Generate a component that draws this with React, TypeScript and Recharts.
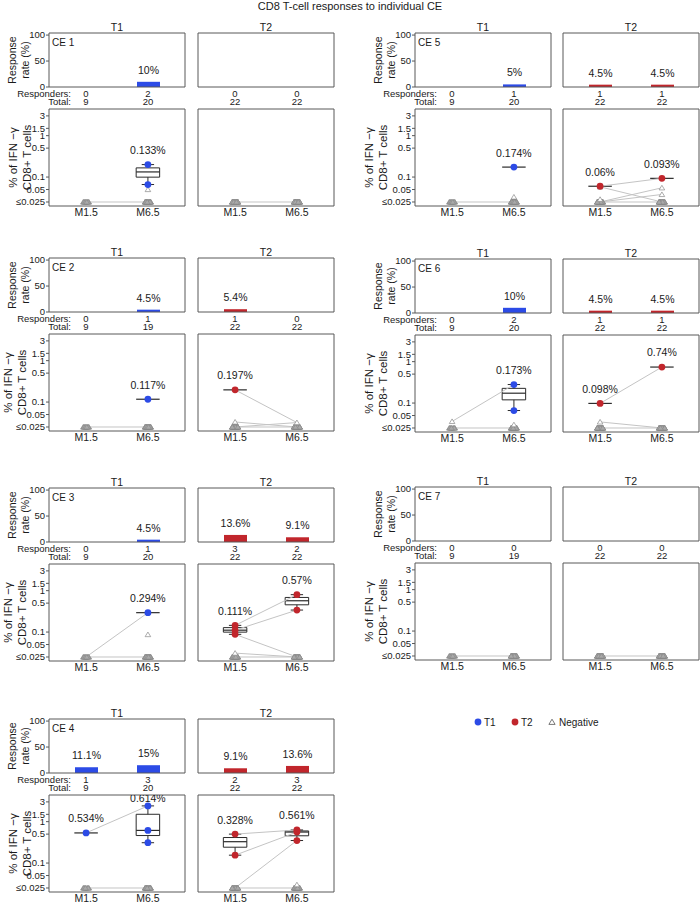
import React from 'react';
import {
  BarChart,
  Bar,
  XAxis,
  YAxis,
  LabelList,
  ScatterChart,
  Scatter,
  ReferenceArea,
  ReferenceLine,
} from 'recharts';

const TIMEPOINTS = ['M1.5', 'M6.5'];
const CE_NAMES = ['CE 1', 'CE 2', 'CE 3', 'CE 4', 'CE 5', 'CE 6', 'CE 7'];
const FLOOR = 0.025;
const LEVEL_TICKS = [0.025, 0.05, 0.1, 0.5, 1, 1.5, 3];

// response rate (%) per CE, [M1.5, M6.5]
const rateT1 = [[0, 10], [0, 4.5], [0, 4.5], [11.1, 15], [0, 5], [0, 10], [0, 0]];
const rateT2 = [[0, 0], [5.4, 0], [13.6, 9.1], [9.1, 13.6], [4.5, 4.5], [4.5, 4.5], [0, 0]];

// responders / total
const respT1 = [[0, 2], [0, 1], [0, 1], [1, 3], [0, 1], [0, 2], [0, 0]];
const respT2 = [[0, 0], [1, 0], [3, 2], [2, 3], [1, 1], [1, 1], [0, 0]];
const totalT1 = [[9, 20], [9, 19], [9, 20], [9, 20], [9, 20], [9, 20], [9, 19]];
const totalT2 = [[22, 22], [22, 22], [22, 22], [22, 22], [22, 22], [22, 22], [22, 22]];

// % IFN-g+ of responders
const posT1 = [
  [[], [0.2, 0.066]],
  [[], [0.117]],
  [[], [0.294]],
  [[0.534], [2.4, 0.614, 0.31]],
  [[], [0.174]],
  [[], [0.28, 0.066]],
  [[], []],
];
const posT2 = [
  [[], []],
  [[0.197], []],
  [[0.145, 0.111, 0.088], [0.8, 0.34]],
  [[0.5, 0.155], [0.63, 0.561, 0.35]],
  [[0.06], [0.093]],
  [[0.098], [0.74]],
  [[], []],
];

// medians printed over the groups
const medT1 = [[null, 0.133], [null, 0.117], [null, 0.294], [0.534, 0.614], [null, 0.174], [null, 0.173], [null, null]];
const medT2 = [[null, null], [0.197, null], [0.111, 0.57], [0.328, 0.561], [0.06, 0.093], [0.098, 0.74], [null, null]];

// negatives sitting above the detection floor
const negT1 = [[[], [0.05]], [[], []], [[], [0.087]], [[], []], [[], [0.033]], [[0.036], [0.03]], [[], []]];
const negT2 = [[[], []], [[0.033], [0.032]], [[0.031], []], [[], [0.03]], [[0.058, 0.029], [0.055, 0.038]], [[0.035], []], [[], []]];

// paired samples, M1.5 -> M6.5
const pairsT1 = [
  [[0.025, 0.025]],
  [[0.025, 0.025]],
  [[0.025, 0.294], [0.025, 0.025]],
  [[0.534, 2.4], [0.025, 0.025]],
  [[0.025, 0.025]],
  [[0.036, 0.28], [0.025, 0.025]],
  [[0.025, 0.025]],
];
const pairsT2 = [
  [[0.025, 0.025]],
  [[0.197, 0.032], [0.033, 0.025], [0.025, 0.032], [0.025, 0.025]],
  [[0.145, 0.8], [0.111, 0.34], [0.088, 0.025], [0.031, 0.025], [0.025, 0.025]],
  [[0.5, 0.63], [0.155, 0.561], [0.025, 0.35], [0.025, 0.025]],
  [[0.06, 0.093], [0.058, 0.025], [0.025, 0.055], [0.025, 0.038], [0.025, 0.025]],
  [[0.098, 0.74], [0.035, 0.025], [0.025, 0.025]],
  [[0.025, 0.025]],
];

// layout
const FONT = '"Liberation Sans", Arial, Helvetica, sans-serif';
const INK = '#1a1a1a';
const FRAME = '#595959';
const BOX = '#2b2b2b';
const LINK = '#c4c4c4';
const T1_COLOR = '#2c4be6';
const T2_COLOR = '#c1262c';
const BOX_W = 136;
const BAR_H = 54;
const LEVEL_H = 97;
const LEVEL_GAP = 76;
const AXIS_W = [49, 58];
const COL_X = [[49, 198], [415, 563]];
const ROW_Y = [[33, 258, 488, 719], [33, 259, 487]];
const PANEL_POS = [[0, 0], [0, 1], [0, 2], [0, 3], [1, 0], [1, 1], [1, 2]];
const TITLE_SHIFT = [0, -5, -5, 0, -10, -10, -10];
const JITTER = [-0.045, 0.045, -0.022, 0.022, 0, -0.034, 0.034, -0.011, 0.011];
const HALF = 0.19;
const CAP = 0.1;

const quantile = (s: number[], q: number) => {
  const p = (s.length - 1) * q;
  const lo = Math.floor(p);
  const hi = Math.ceil(p);
  return s[lo] + (s[hi] - s[lo]) * (p - lo);
};

const sideTitle = (axisW: number, lines: string[], size: number, offs: number[], top: number, h: number, tag?: string) => () => {
  const cy = top + h / 2;
  return (
    <g fill={INK}>
      {lines.map((t, i) => (
        <text
          key={t}
          x={axisW + offs[i]}
          y={cy}
          transform={`rotate(-90 ${axisW + offs[i]} ${cy})`}
          textAnchor="middle"
          dominantBaseline="central"
          fontSize={size}
        >
          {t}
        </text>
      ))}
      {tag ? (
        <text x={axisW + 3} y={top + 13} fontSize={10}>
          {tag}
        </text>
      ) : null}
    </g>
  );
};

function RateChart({ left, top, axisW, name, head, rates, resp, tot, color }: any) {
  const first = axisW > 1;
  const yW = axisW;
  const data = TIMEPOINTS.map((tp, i) => ({ tp, rate: rates[i], label: rates[i] > 0 ? `${rates[i]}%` : '' }));
  const countTick = (p: any) => (
    <g fontSize={9.5} fill={INK}>
      <text x={p.x} y={p.y + 9.5} textAnchor="middle">{resp[p.index]}</text>
      <text x={p.x} y={p.y + 18} textAnchor="middle">{tot[p.index]}</text>
      {first && p.index === 0 ? (
        <>
          <text x={yW + 22} y={p.y + 9.5} textAnchor="end">Responders:</text>
          <text x={yW + 22} y={p.y + 18} textAnchor="end">Total:</text>
        </>
      ) : null}
    </g>
  );
  return (
    <div style={{ position: 'absolute', left: left - yW, top: top - 18 }}>
      <BarChart
        width={yW + BOX_W + 2}
        height={18 + BAR_H + 24}
        data={data}
        margin={{ top: 17, right: 1, bottom: 0, left: 0 }}
      >
        <XAxis
          dataKey="tp"
          height={24}
          padding={{ left: 6, right: 6 }}
          tickLine={false}
          tickSize={0}
          tickMargin={0}
          interval={0}
          tick={countTick}
          axisLine={{ stroke: FRAME }}
        />
        <XAxis
          xAxisId="top"
          dataKey="tp"
          orientation="top"
          height={1}
          padding={{ left: 6, right: 6 }}
          tick={false}
          tickLine={false}
          axisLine={{ stroke: FRAME }}
          label={{ value: head, position: 'top', offset: 1, fontSize: 10.5, fill: INK }}
        />
        <YAxis
          type="number"
          domain={[0, 104]}
          ticks={[0, 50, 100]}
          interval={0}
          width={yW}
          tick={first ? { fontSize: 9.5, fill: INK } : false}
          tickLine={first ? { stroke: FRAME } : false}
          tickSize={3}
          tickMargin={1}
          axisLine={{ stroke: FRAME }}
          label={first ? sideTitle(yW, ['Response', 'rate (%)'], 10.5, [-37, -24], 18, BAR_H, name) : undefined}
        />
        <YAxis
          yAxisId="r"
          orientation="right"
          type="number"
          domain={[0, 1]}
          width={1}
          tick={false}
          tickLine={false}
          axisLine={{ stroke: FRAME }}
        />
        <Bar dataKey="rate" fill={color} barSize={23} isAnimationActive={false}>
          <LabelList dataKey="label" position="top" offset={8} fontSize={10.5} fill={INK} />
        </Bar>
      </BarChart>
    </div>
  );
}

const dotShape = (color: string) => (p: any) => <circle cx={p.cx} cy={p.cy} r={3.4} fill={color} />;
const triShape = (fill: string, w: number) => (p: any) => (
  <path
    d={`M${p.cx} ${p.cy - w * 0.9}L${p.cx + w} ${p.cy + w * 0.75}L${p.cx - w} ${p.cy + w * 0.75}Z`}
    fill={fill}
    stroke="#8a8a8a"
    strokeWidth={0.7}
  />
);
const noShape = () => <g />;
const medianShape = (p: any) => (
  <text x={p.cx} y={p.cy} dy={3.6} textAnchor="middle" fontSize={10.5} fill={INK}>
    {p.payload.text}
  </text>
);

function LevelChart({ left, top, axisW, shift, pos, med, neg, pairs, resp, tot, color }: any) {
  const first = axisW > 1;
  const yW = axisW;
  const floorPts: any[] = [];
  const openPts: any[] = [];
  const dotPts: any[] = [];
  const labelPts: any[] = [];
  const boxes: React.ReactNode[] = [];
  TIMEPOINTS.forEach((_, i) => {
    const c = i + 1;
    const nFloor = tot[i] - resp[i] - neg[i].length;
    for (let k = 0; k < nFloor; k++) floorPts.push({ x: c + JITTER[k % JITTER.length], y: FLOOR });
    neg[i].forEach((v: number) => openPts.push({ x: c, y: v }));
    pos[i].forEach((v: number) => dotPts.push({ x: c, y: v }));
    if (med[i] == null) return;
    const s = [...pos[i]].sort((a: number, b: number) => a - b);
    const lo = s[0];
    const hi = s[s.length - 1];
    if (s.length > 1) {
      const q1 = quantile(s, 0.25);
      const q3 = quantile(s, 0.75);
      boxes.push(
        <ReferenceLine key={`wu${i}`} segment={[{ x: c, y: q3 }, { x: c, y: hi }]} stroke={BOX} />,
        <ReferenceLine key={`wl${i}`} segment={[{ x: c, y: q1 }, { x: c, y: lo }]} stroke={BOX} />,
        <ReferenceLine key={`cu${i}`} segment={[{ x: c - CAP, y: hi }, { x: c + CAP, y: hi }]} stroke={BOX} />,
        <ReferenceLine key={`cl${i}`} segment={[{ x: c - CAP, y: lo }, { x: c + CAP, y: lo }]} stroke={BOX} />,
        <ReferenceArea
          key={`b${i}`}
          x1={c - HALF}
          x2={c + HALF}
          y1={q1}
          y2={q3}
          fill="#ffffff"
          fillOpacity={1}
          stroke={BOX}
          strokeWidth={1}
        />,
      );
    }
    boxes.push(
      <ReferenceLine
        key={`m${i}`}
        segment={[{ x: c - HALF, y: med[i] }, { x: c + HALF, y: med[i] }]}
        stroke={BOX}
        strokeWidth={1.2}
      />,
    );
    labelPts.push({ x: c, y: Math.min(hi * 2.2, 3.6), text: `${med[i]}%` });
  });

  return (
    <div style={{ position: 'absolute', left: left - yW, top: top - 2 }}>
      <ScatterChart width={yW + BOX_W + 2} height={2 + LEVEL_H + 20} margin={{ top: 1, right: 1, bottom: 0, left: 0 }}>
        <XAxis
          type="number"
          dataKey="x"
          domain={[0.4, 2.6]}
          ticks={[1, 2]}
          interval={0}
          allowDataOverflow
          tickFormatter={(v: number) => TIMEPOINTS[v - 1]}
          height={20}
          tickLine={false}
          tickSize={0}
          tickMargin={3}
          tick={{ fontSize: 10.5, fill: INK }}
          axisLine={{ stroke: FRAME }}
        />
        <XAxis
          xAxisId="top"
          orientation="top"
          type="number"
          domain={[0.4, 2.6]}
          height={1}
          tick={false}
          tickLine={false}
          axisLine={{ stroke: FRAME }}
        />
        <YAxis
          type="number"
          dataKey="y"
          scale="log"
          domain={[0.02, 4.4]}
          ticks={LEVEL_TICKS}
          interval={0}
          allowDataOverflow
          width={yW}
          tickFormatter={(v: number) => (v === FLOOR ? '\u22640.025' : String(v))}
          tick={first ? { fontSize: 9.5, fill: INK } : false}
          tickLine={first ? { stroke: FRAME } : false}
          tickSize={3}
          tickMargin={1}
          axisLine={{ stroke: FRAME }}
          label={
            first
              ? sideTitle(yW, ['% of IFN \u2212\u03b3', 'CD8+ T cells'], 11.5, [-36 + shift, -22 + shift], 2, LEVEL_H)
              : undefined
          }
        />
        <YAxis
          yAxisId="r"
          orientation="right"
          type="number"
          domain={[0, 1]}
          width={1}
          tick={false}
          tickLine={false}
          axisLine={{ stroke: FRAME }}
        />
        {pairs.map((p: number[], i: number) => (
          <Scatter
            key={`pair${i}`}
            data={[{ x: 1, y: p[0] }, { x: 2, y: p[1] }]}
            line={{ stroke: LINK, strokeWidth: 1 }}
            lineType="joint"
            shape={noShape}
            isAnimationActive={false}
          />
        ))}
        {boxes}
        <Scatter data={floorPts} shape={triShape('#a9a9a9', 2.8)} isAnimationActive={false} />
        <Scatter data={openPts} shape={triShape('#ffffff', 2.8)} isAnimationActive={false} />
        <Scatter data={dotPts} shape={dotShape(color)} isAnimationActive={false} />
        <Scatter data={labelPts} shape={medianShape} isAnimationActive={false} />
      </ScatterChart>
    </div>
  );
}

function CEPanel({ k }: { k: number }) {
  const [col, row] = PANEL_POS[k];
  const y = ROW_Y[col][row];
  const groups = [
    { head: 'T1', rates: rateT1[k], resp: respT1[k], tot: totalT1[k], pos: posT1[k], med: medT1[k], neg: negT1[k], pairs: pairsT1[k], color: T1_COLOR },
    { head: 'T2', rates: rateT2[k], resp: respT2[k], tot: totalT2[k], pos: posT2[k], med: medT2[k], neg: negT2[k], pairs: pairsT2[k], color: T2_COLOR },
  ];
  return (
    <>
      {groups.map((g, j) => (
        <React.Fragment key={g.head}>
          <RateChart
            left={COL_X[col][j]}
            top={y}
            axisW={j === 0 ? AXIS_W[col] : 1}
            name={CE_NAMES[k]}
            head={g.head}
            rates={g.rates}
            resp={g.resp}
            tot={g.tot}
            color={g.color}
          />
          <LevelChart
            left={COL_X[col][j]}
            top={y + LEVEL_GAP}
            axisW={j === 0 ? AXIS_W[col] : 1}
            shift={TITLE_SHIFT[k]}
            pos={g.pos}
            med={g.med}
            neg={g.neg}
            pairs={g.pairs}
            resp={g.resp}
            tot={g.tot}
            color={g.color}
          />
        </React.Fragment>
      ))}
    </>
  );
}

export default function App() {
  return (
    <div
      style={{
        position: 'absolute',
        left: 0,
        top: 0,
        width: 700,
        height: 903,
        background: '#ffffff',
        fontFamily: FONT,
        color: INK,
      }}
    >
      <div style={{ position: 'absolute', left: 0, top: 0, width: 700, textAlign: 'center', fontSize: 11, lineHeight: '12px' }}>
        CD8 T-cell responses to individual CE
      </div>
      {CE_NAMES.map((n, k) => (
        <CEPanel key={n} k={k} />
      ))}
      <svg style={{ position: 'absolute', left: 470, top: 714 }} width={140} height={16} fontFamily={FONT}>
        <circle cx={8} cy={8} r={3.4} fill={T1_COLOR} />
        <text x={14} y={11.6} fontSize={10} fill={INK}>T1</text>
        <circle cx={45} cy={8} r={3.4} fill={T2_COLOR} />
        <text x={51} y={11.6} fontSize={10} fill={INK}>T2</text>
        <path d="M82 5.2L85.1 10.4L78.9 10.4Z" fill="#ffffff" stroke="#555" strokeWidth={0.8} />
        <text x={89} y={11.6} fontSize={10} fill={INK}>Negative</text>
      </svg>
    </div>
  );
}
